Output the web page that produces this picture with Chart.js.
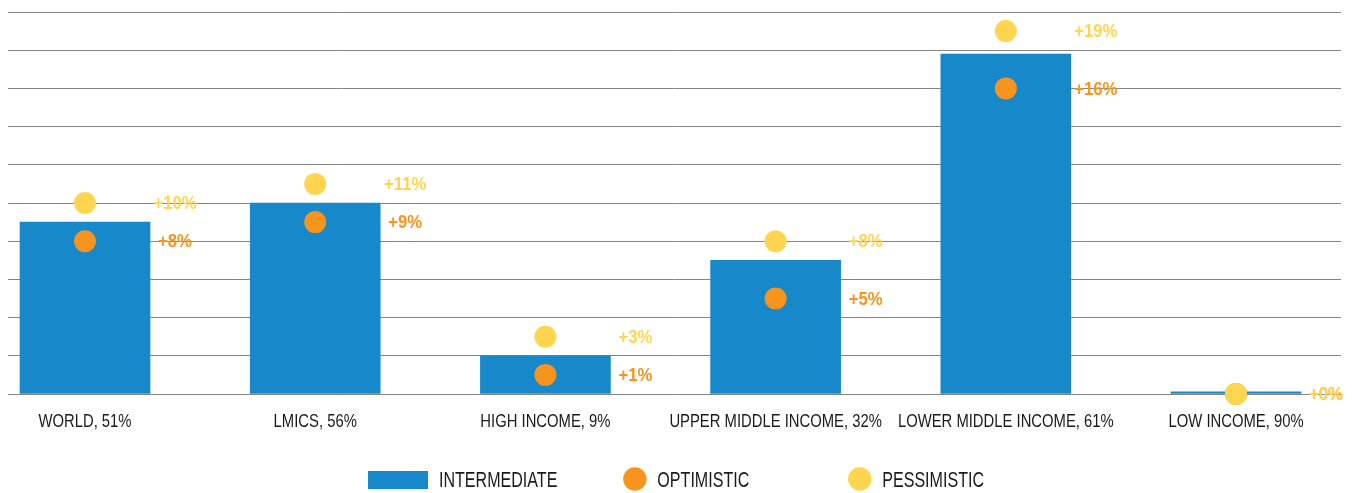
<!DOCTYPE html>
<html>
<head>
<meta charset="utf-8">
<script src="https://cdn.jsdelivr.net/npm/chart.js@4"></script>
<style>
  html, body { margin: 0; padding: 0; background: #fff; }
  #wrap { width: 1354px; height: 493px; }
</style>
</head>
<body>
<div id="wrap"><canvas id="chart" width="1354" height="493"></canvas></div>
<script>
const categories = ['WORLD, 51%', 'LMICS, 56%', 'HIGH INCOME, 9%', 'UPPER MIDDLE INCOME, 32%', 'LOWER MIDDLE INCOME, 61%', 'LOW INCOME, 90%'];
const intermediate = [9, 10, 2, 7, 17.8, 0.12];
const optimistic = [8, 9, 1, 5, 16, 0];
const pessimistic = [10, 11, 3, 8, 19, 0];
const seriesNames = ['INTERMEDIATE', 'OPTIMISTIC', 'PESSIMISTIC'];

// no condensed face installed, so squeeze Liberation Sans horizontally
const FONT = '"Liberation Sans", Arial, sans-serif';
const BLUE = '#1789ca';
const ORANGE = '#f7941d';
const YELLOW = '#ffd54f';
const TEXT = '#1a1a1a';

const toPoints = arr => arr.map((v, i) => ({ x: i, y: v }));

function narrowText(ctx, text, x, y, font, sx, color, align) {
  ctx.save();
  ctx.font = font;
  ctx.fillStyle = color;
  ctx.textBaseline = 'middle';
  ctx.textAlign = align || 'left';
  ctx.translate(x, y);
  ctx.scale(sx, 1);
  ctx.fillText(text, 0, 0);
  ctx.restore();
}

function narrowWidth(ctx, text, font, sx) {
  ctx.save();
  ctx.font = font;
  const w = ctx.measureText(text).width * sx;
  ctx.restore();
  return w;
}

// "+8%" style labels to the right of each dot
const valueLabels = {
  id: 'valueLabels',
  afterDatasetsDraw(chart) {
    const ctx = chart.ctx;
    [1, 2].forEach(di => {
      const ds = chart.data.datasets[di];
      chart.getDatasetMeta(di).data.forEach((pt, i) => {
        narrowText(ctx, '+' + ds.data[i].y + '%', pt.x + 90, pt.y + 1,
          'bold 19px ' + FONT, 0.88, ds.backgroundColor, 'center');
      });
    });
  }
};

// category labels and legend, drawn narrow
const axisAndLegend = {
  id: 'axisAndLegend',
  afterDraw(chart) {
    const ctx = chart.ctx;
    const xs = chart.scales.x;
    const bottom = chart.chartArea.bottom;
    categories.forEach((c, i) => {
      narrowText(ctx, c, xs.getPixelForValue(i), bottom + 28,
        '19px ' + FONT, 0.78, TEXT, 'center');
    });

    const lFont = '22px ' + FONT;
    const lsx = 0.73;
    const gaps = [66, 99];
    const items = seriesNames.map((name, i) => {
      const sw = i === 0 ? 60 : 23;
      const tw = narrowWidth(ctx, name, lFont, lsx);
      return { name, sw, tw, color: chart.data.datasets[i].backgroundColor, w: sw + 11 + tw };
    });
    const total = items.reduce((s, it) => s + it.w, 0) + gaps[0] + gaps[1];
    let x = chart.width / 2 - total / 2 - 1;
    const y = bottom + 86;
    items.forEach((it, i) => {
      ctx.save();
      ctx.fillStyle = it.color;
      if (i === 0) {
        ctx.fillRect(x, y - 9, 60, 18);
      } else {
        ctx.beginPath();
        ctx.arc(x + 11.5, y - 1, 11.7, 0, Math.PI * 2);
        ctx.fill();
      }
      ctx.restore();
      narrowText(ctx, it.name, x + it.sw + 11, y + 0.5, lFont, lsx, TEXT, 'left');
      x += it.w + (gaps[i] || 0);
    });
  }
};

new Chart(document.getElementById('chart'), {
  type: 'bar',
  data: {
    datasets: [
      {
        label: seriesNames[0],
        data: toPoints(intermediate),
        backgroundColor: BLUE,
        barThickness: 130,
        order: 3
      },
      {
        type: 'scatter',
        label: seriesNames[1],
        data: toPoints(optimistic),
        backgroundColor: ORANGE,
        borderWidth: 0,
        pointRadius: 11,
        pointHoverRadius: 11,
        clip: false,
        order: 2
      },
      {
        type: 'scatter',
        label: seriesNames[2],
        data: toPoints(pessimistic),
        backgroundColor: YELLOW,
        borderWidth: 0,
        pointRadius: 11,
        pointHoverRadius: 11,
        clip: false,
        order: 1
      }
    ]
  },
  options: {
    responsive: false,
    animation: false,
    layout: { autoPadding: false, padding: { left: 8, right: 13, top: 12, bottom: 99 } },
    scales: {
      x: {
        type: 'linear',
        display: false,
        offset: false,
        min: -0.3345,
        max: 5.456
      },
      y: {
        min: 0,
        max: 20,
        afterFit: s => { s.width = 0; },
        ticks: { display: false, stepSize: 2 },
        border: { display: false },
        grid: { color: '#858585', lineWidth: 1, drawTicks: false }
      }
    },
    plugins: {
      tooltip: { enabled: false },
      legend: { display: false }
    }
  },
  plugins: [valueLabels, axisAndLegend]
});
</script>
</body>
</html>
